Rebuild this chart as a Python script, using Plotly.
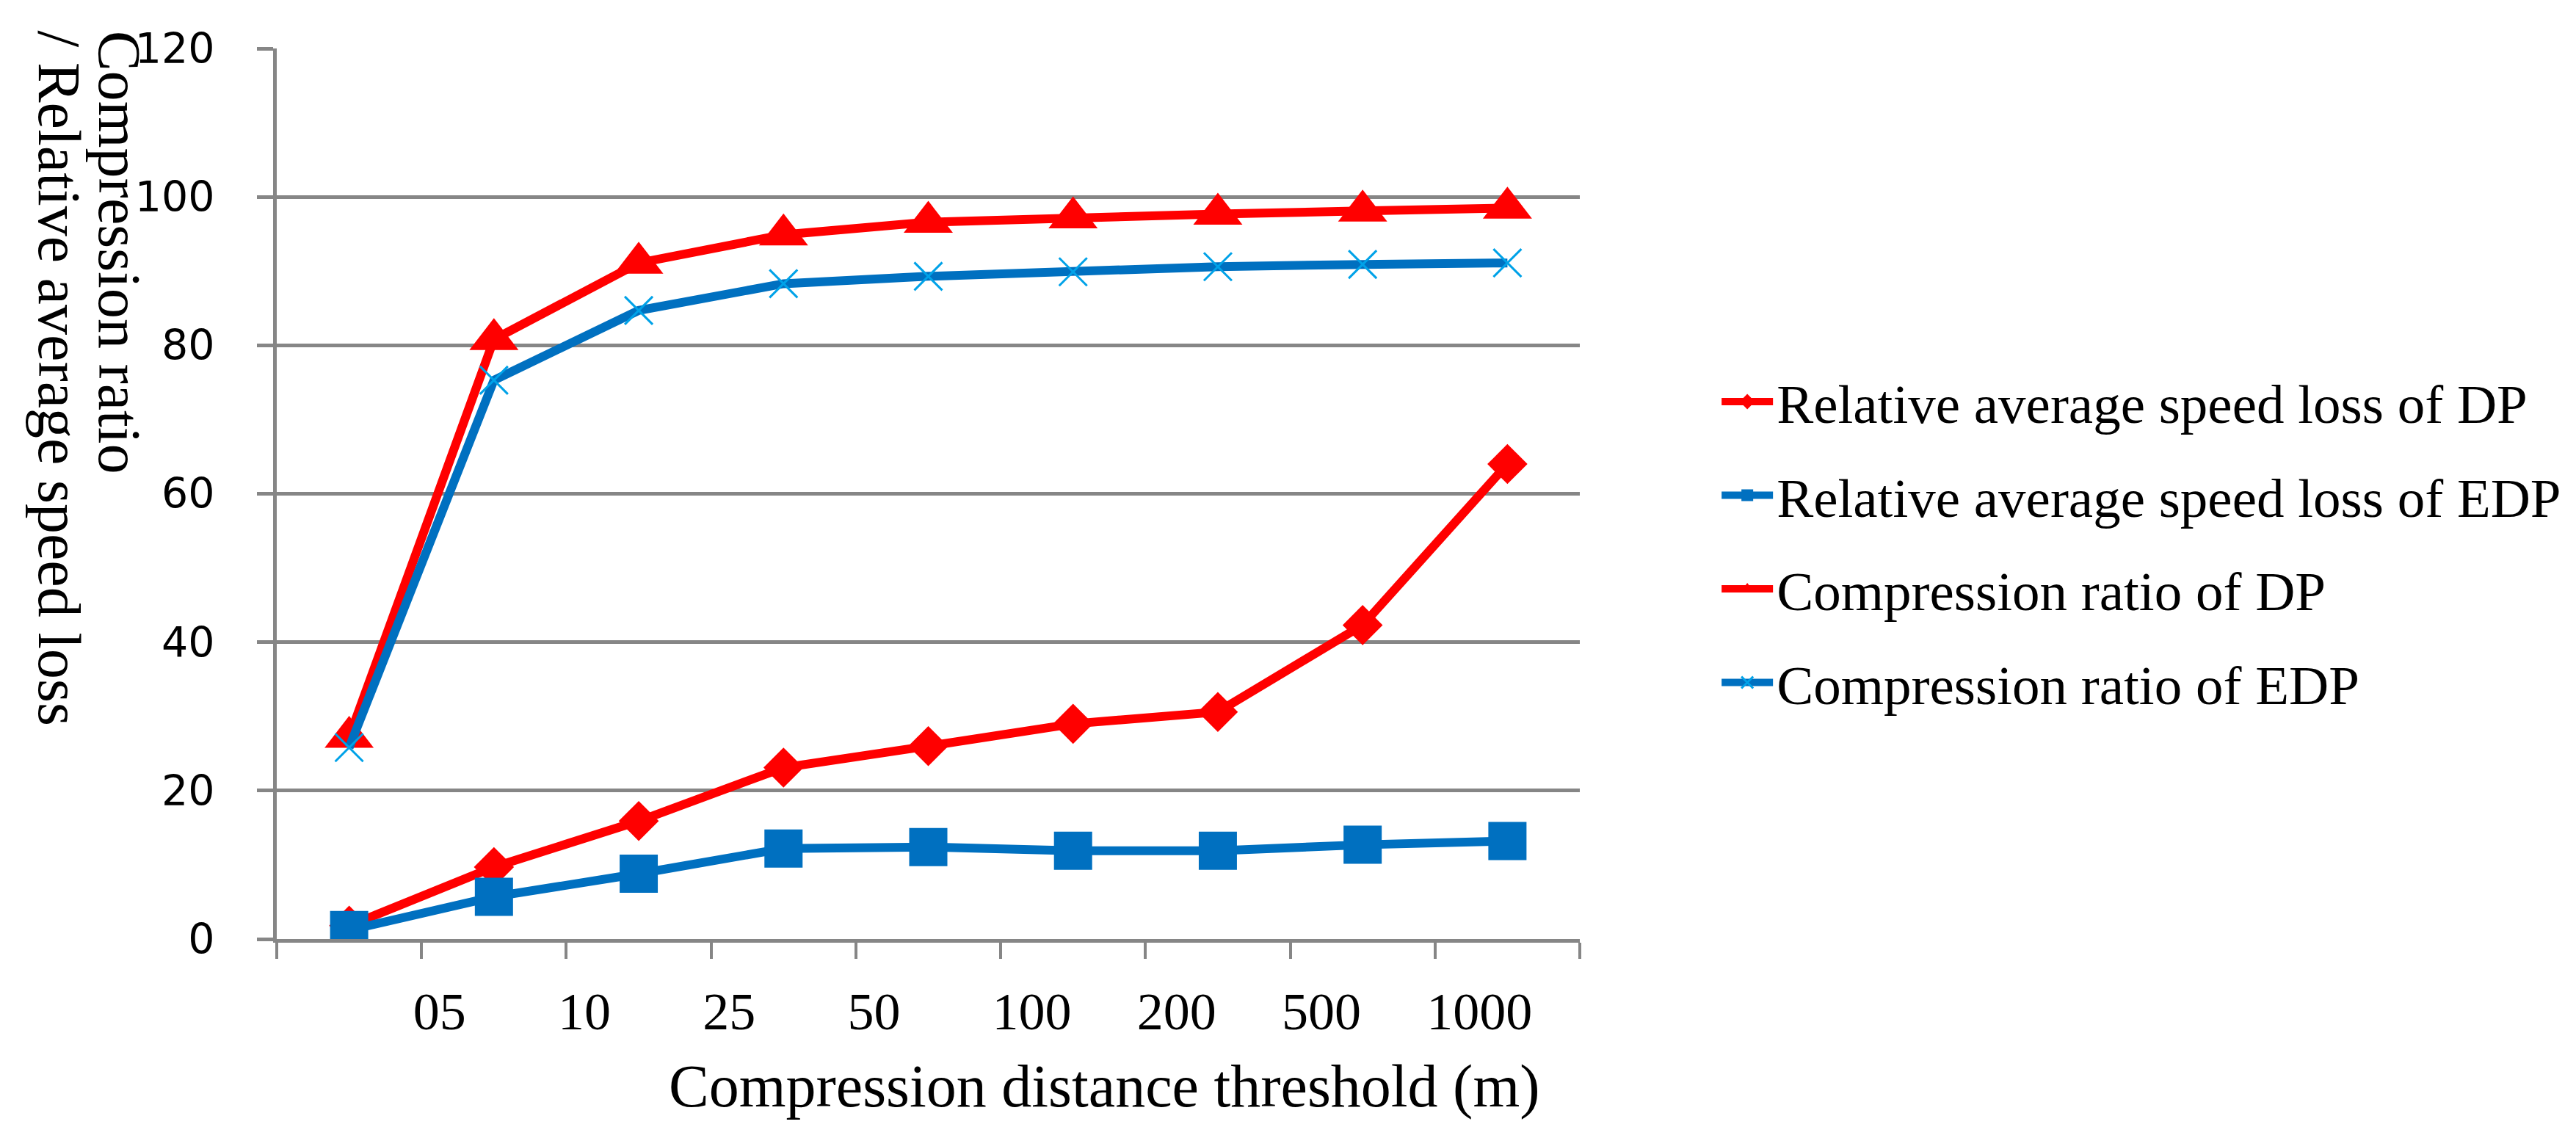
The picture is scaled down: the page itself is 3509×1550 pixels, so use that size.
import plotly.graph_objects as go

# values
threshold_labels = ["05", "10", "25", "50", "100", "200", "500", "1000"]
dp_speed_loss = [1.8, 9.7, 15.9, 23.1, 26.0, 29.0, 30.6, 42.3, 64.0]
edp_speed_loss = [1.2, 5.7, 8.8, 12.2, 12.4, 11.9, 11.9, 12.7, 13.2]
dp_ratio = [27.2, 80.8, 91.1, 94.9, 96.6, 97.2, 97.7, 98.1, 98.5]
edp_ratio = [25.8, 75.3, 84.7, 88.3, 89.3, 89.9, 90.6, 90.9, 91.1]

RED = "#FF0000"
BLUE = "#0070C0"
LIGHT_BLUE = "#00A2E8"
GRID = "#868686"
SERIF = "Liberation Serif, Times New Roman, serif"

x_pos = list(range(len(dp_speed_loss)))
# tick marks sit on category boundaries, labels on the inner ones
tick_pos = [i - 0.5 for i in range(len(x_pos) + 1)]
tick_text = [""] + threshold_labels + [""]

fig = go.Figure()

series = [
    ("Relative average speed loss of DP", dp_speed_loss, RED,
     dict(symbol="diamond", size=42, color=RED, line=dict(width=0))),
    ("Relative average speed loss of EDP", edp_speed_loss, BLUE,
     dict(symbol="square", size=52, color=BLUE, line=dict(width=0))),
    ("Compression ratio of DP", dp_ratio, RED,
     dict(symbol="triangle-up", size=58, color=RED, line=dict(width=0))),
    ("Compression ratio of EDP", edp_ratio, BLUE,
     dict(symbol="x-thin-open", size=38, color=LIGHT_BLUE,
          line=dict(width=3, color=LIGHT_BLUE))),
]
for i, (name, vals, col, mk) in enumerate(series):
    fig.add_trace(go.Scatter(
        x=x_pos, y=vals, name=name, mode="lines+markers",
        line=dict(color=col, width=12), marker=mk,
        legendgroup=f"g{i}",
    ))

fig.update_layout(
    width=3509, height=1550,
    margin=dict(l=369, r=1365, t=58, b=279),
    plot_bgcolor="white", paper_bgcolor="white",
    font=dict(family=SERIF, size=75, color="black"),
    showlegend=True,
    legend=dict(
        x=1.106, y=0.649, xanchor="left", yanchor="top",
        font=dict(family=SERIF, size=75, color="black"),
        itemwidth=70, tracegroupgap=27, traceorder="grouped",
        bgcolor="rgba(0,0,0,0)",
    ),
)

fig.update_xaxes(
    range=[-0.5, 8.5],
    tickmode="array", tickvals=tick_pos, ticktext=tick_text,
    ticks="outside", ticklen=22, tickwidth=4, tickcolor=GRID,
    ticklabelposition="outside right", ticklabelstandoff=32,
    ticklabelshift=-16,
    tickfont=dict(family=SERIF, size=72, color="black"),
    showline=True, linecolor=GRID, linewidth=5,
    showgrid=False, zeroline=False,
)
fig.update_yaxes(
    range=[0, 120], tick0=0, dtick=20,
    ticks="outside", ticklen=22, tickwidth=5, tickcolor=GRID,
    ticklabelstandoff=46,
    tickfont=dict(family="DejaVu Sans", size=57, color="black"),
    showline=True, linecolor=GRID, linewidth=5,
    showgrid=True, gridcolor=GRID, gridwidth=5,
    zeroline=False,
)

# axis titles
fig.add_annotation(
    text="Compression distance threshold (m)", showarrow=False,
    xref="paper", yref="paper", x=0.635, y=-0.1657,
    xanchor="center", yanchor="middle",
    font=dict(family=SERIF, size=82, color="black"),
)
fig.add_annotation(
    text="Compression ratio", showarrow=False, textangle=90,
    xref="paper", yref="paper", x=-0.1206, y=1.0214,
    xanchor="center", yanchor="top",
    font=dict(family=SERIF, size=82, color="black"),
)
fig.add_annotation(
    text="/ Relative average speed loss", showarrow=False, textangle=90,
    xref="paper", yref="paper", x=-0.1668, y=1.0214,
    xanchor="center", yanchor="top",
    font=dict(family=SERIF, size=82, color="black"),
)

fig.write_html("out.html")
